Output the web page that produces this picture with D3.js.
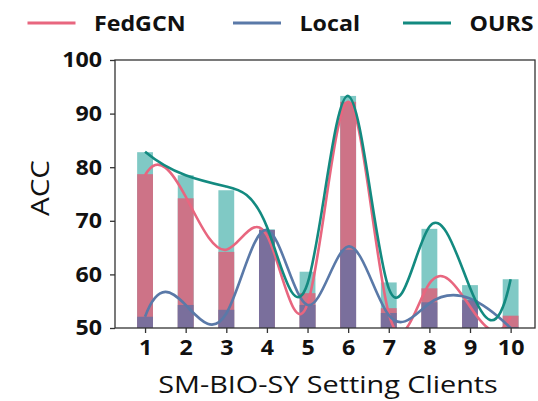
<!DOCTYPE html>
<html><head><meta charset="utf-8">
<script src="https://cdn.jsdelivr.net/npm/d3@7"></script>
<style>body{margin:0;background:#fff}svg{display:block}</style>
</head><body><svg id="c" width="538" height="401"></svg>
<script>
const clients = [1,2,3,4,5,6,7,8,9,10];
const seriesNames = ["FedGCN","Local","OURS"];
// bar heights
const barOURS   = [82.8,78.5,75.7,68.4,60.5,93.3,58.5,68.5,58.0,59.1];
const barFedGCN = [78.7,74.2,64.2,68.2,56.5,92.2,53.7,57.4,52.8,52.3];
const barLocal  = [52.1,54.3,53.4,68.3,54.3,64.6,52.8,54.8,55.2,50.2];
// smoothed trend lines read at each client
const lineOURS   = [82.9,78.5,76.4,68.9,58.3,93.3,57.4,68.9,57.5,59.1];
const lineFedGCN = [78.5,74.5,64.6,67.3,54.5,92.2,52.7,58.3,54.0,52.1];
const lineLocal  = [52.1,54.3,52.7,68.3,54.3,65.2,52.4,54.6,55.5,50.0];
const yTicks = [50,60,70,80,90,100];

// not-a-knot cubic spline curve for d3.line
function NotAKnot(ctx){this._context=ctx;}
NotAKnot.prototype = {
  areaStart(){this._line=0;}, areaEnd(){this._line=NaN;},
  lineStart(){this._x=[];this._y=[];},
  point(x,y){this._x.push(+x);this._y.push(+y);},
  lineEnd(){
    const X=this._x,Y=this._y,n=X.length,c=this._context;
    if(!n) return;
    c.moveTo(X[0],Y[0]);
    if(n<4){for(let i=1;i<n;i++)c.lineTo(X[i],Y[i]);return;}
    const h=[];for(let i=0;i<n-1;i++)h.push(X[i+1]-X[i]);
    const A=[],b=[];
    for(let i=0;i<n;i++){A.push(new Array(n).fill(0));b.push(0);}
    A[0][0]=h[1];A[0][1]=-(h[0]+h[1]);A[0][2]=h[0];
    for(let i=1;i<n-1;i++){
      A[i][i-1]=h[i-1];A[i][i]=2*(h[i-1]+h[i]);A[i][i+1]=h[i];
      b[i]=6*((Y[i+1]-Y[i])/h[i]-(Y[i]-Y[i-1])/h[i-1]);
    }
    A[n-1][n-3]=h[n-2];A[n-1][n-2]=-(h[n-3]+h[n-2]);A[n-1][n-1]=h[n-3];
    for(let k=0;k<n;k++){
      let p=k;for(let r=k+1;r<n;r++)if(Math.abs(A[r][k])>Math.abs(A[p][k]))p=r;
      [A[k],A[p]]=[A[p],A[k]];[b[k],b[p]]=[b[p],b[k]];
      for(let r=k+1;r<n;r++){const f=A[r][k]/A[k][k];for(let j=k;j<n;j++)A[r][j]-=f*A[k][j];b[r]-=f*b[k];}
    }
    const M=new Array(n).fill(0);
    for(let k=n-1;k>=0;k--){let s=b[k];for(let j=k+1;j<n;j++)s-=A[k][j]*M[j];M[k]=s/A[k][k];}
    for(let i=0;i<n-1;i++){
      const hh=h[i],d=(Y[i+1]-Y[i])/hh;
      const s0=d-hh*(2*M[i]+M[i+1])/6, s1=d+hh*(M[i]+2*M[i+1])/6;
      c.bezierCurveTo(X[i]+hh/3,Y[i]+s0*hh/3,X[i+1]-hh/3,Y[i+1]-s1*hh/3,X[i+1],Y[i+1]);
    }
  }
};
const curveNotAKnot = ctx=>new NotAKnot(ctx);

const svg = d3.select("#c");
const L=115,T=60,R=535,B=328;
const x = d3.scaleLinear().domain([0.26,10.6]).range([L,R]);
const y = d3.scaleLinear().domain([50,100]).range([B,T]);
const bw = x(1.39)-x(1);

const barCol = {OURS:"#80c9c5",FedGCN:"#cd7387",Local:"#7a6f9c"};
const lineCol = {OURS:"#138a80",FedGCN:"#e8667f",Local:"#5a79a8"};

svg.append("defs").append("clipPath").attr("id","clip").append("rect")
  .attr("x",L).attr("y",T).attr("width",R-L).attr("height",B-T);

const bars = [["OURS",barOURS],["FedGCN",barFedGCN],["Local",barLocal]];
bars.forEach(([n,vals])=>{
  svg.append("g").selectAll("rect").data(vals).join("rect")
    .attr("x",(d,i)=>x(clients[i])-bw/2).attr("width",bw)
    .attr("y",d=>y(d)).attr("height",d=>B-y(d))
    .attr("fill",barCol[n]);
});

const lines = [["FedGCN",lineFedGCN],["Local",lineLocal],["OURS",lineOURS]];
const lg = svg.append("g").attr("clip-path","url(#clip)");
lines.forEach(([n,vals])=>{
  lg.append("path").datum(vals)
    .attr("d",d3.line().x((d,i)=>x(clients[i])).y(d=>y(d)).curve(curveNotAKnot))
    .attr("fill","none").attr("stroke",lineCol[n]).attr("stroke-width",2.6);
});

svg.append("rect").attr("x",L).attr("y",T).attr("width",R-L).attr("height",B-T)
  .attr("fill","none").attr("stroke","#333").attr("stroke-width",1.3);

const FONT="'Open Sans'";
const xa = svg.append("g").attr("transform",`translate(0,${B})`)
  .call(d3.axisBottom(x).tickValues(clients).tickSize(5).tickPadding(7).tickFormat(d3.format("d")));
const ya = svg.append("g").attr("transform",`translate(${L},0)`)
  .call(d3.axisLeft(y).tickValues(yTicks).tickSize(5).tickPadding(8));
[xa,ya].forEach(a=>{
  a.select(".domain").remove();
  a.selectAll("line").attr("stroke","#333").attr("stroke-width",1.3);
  a.selectAll("text").attr("fill","#111").style("font-family",FONT)
    .style("font-weight","bold").style("font-size","21.5px");
});
xa.selectAll(".tick text").attr("transform","scale(1.08,1)");
ya.selectAll(".tick text").attr("transform","scale(1.08,1)").attr("x",-13/1.08);

svg.append("g").attr("transform",`translate(328,393) scale(1.2,1)`).append("text")
  .attr("text-anchor","middle").style("font-family",FONT).style("font-size","24px").attr("fill","#111")
  .text("SM-BIO-SY Setting Clients");
svg.append("g").attr("transform","translate(48.5,188) rotate(-90) scale(1.18,1)").append("text")
  .attr("text-anchor","middle").style("font-family",FONT).style("font-size","25px").attr("fill","#111").text("ACC");

const legX = [27.5,233,403];
seriesNames.forEach((n,i)=>{
  const g = svg.append("g").attr("transform",`translate(${legX[i]},23)`);
  g.append("line").attr("x1",0).attr("x2",48).attr("stroke",lineCol[n]).attr("stroke-width",3);
  g.append("g").attr("transform","translate(66.5,7.8) scale(1.08,1)").append("text")
    .style("font-family",FONT).style("font-weight","bold").style("font-size","21.5px").attr("fill","#111").text(n);
});
</script></body></html>
